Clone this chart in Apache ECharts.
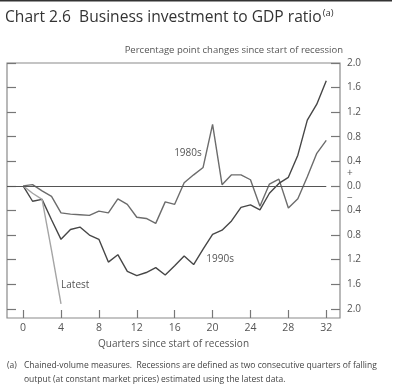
<!DOCTYPE html>
<html><head><meta charset="utf-8">
<script src="https://cdn.jsdelivr.net/npm/echarts@6/dist/echarts.min.js"></script>
<style>html,body{margin:0;padding:0;background:#fff}#c{width:400px;height:392px}</style>
</head><body><div id="c"></div>
<script>
const quarters = [0,1,2,3,4,5,6,7,8,9,10,11,12,13,14,15,16,17,18,19,20,21,22,23,24,25,26,27,28,29,30,31,32];
const s1980s = [0,0.02,-0.08,-0.17,-0.44,-0.46,-0.47,-0.48,-0.41,-0.44,-0.21,-0.30,-0.51,-0.53,-0.61,-0.26,-0.30,0.05,0.18,0.30,1.00,0.02,0.18,0.18,0.10,-0.33,0.03,0.11,-0.36,-0.21,0.15,0.53,0.74];
const s1990s = [0,-0.25,-0.22,-0.55,-0.87,-0.71,-0.67,-0.80,-0.87,-1.24,-1.12,-1.39,-1.46,-1.41,-1.33,-1.45,-1.30,-1.14,-1.28,-1.03,-0.79,-0.72,-0.57,-0.35,-0.31,-0.39,-0.12,0.04,0.14,0.50,1.07,1.33,1.71];
const sLatest = [0,-0.12,-0.22,-1.05,-1.92];
const xTicks = [0,4,8,12,16,20,24,28,32];
const yTicks = [-2.0,-1.6,-1.2,-0.8,-0.4,0,0.4,0.8,1.2,1.6,2.0];
const signMarks = [0.2,-0.2];
const seriesNames = ['1980s','1990s','Latest'];
const nameSpots = [[17.4,0.54],[20.8,-1.19],[5.5,-1.62]];

const chart = echarts.init(document.getElementById('c'), null, {renderer:'canvas'});
const FONT = '"Open Sans", "Noto Sans", sans-serif';
const TITLE = 'Chart 2.6  Business investment to GDP ratio';
const TITLE_FONT = '15.6px ' + FONT;
const mctx = document.createElement('canvas').getContext('2d');
mctx.font = TITLE_FONT;
const titleW = mctx.measureText(TITLE).width;

const pair = arr => arr.map((v,i)=>[quarters[i], v]);
function lbl(i){
  return {silent:true, symbol:'circle', symbolSize:1, itemStyle:{color:'rgba(0,0,0,0)'},
    label:{show:true, position:'inside', formatter:seriesNames[i], color:'#555', fontSize:10, fontFamily:FONT},
    data:[{coord:nameSpots[i]}]};
}
const option = {
  animation:false,
  grid:{left:7, right:60, top:63, bottom:74, show:true, borderColor:'#8a8a8a', borderWidth:1.2},
  xAxis:{type:'value', min:-1.7, max:33.45,
    axisLine:{show:false, onZero:false}, splitLine:{show:false},
    axisTick:{show:true, inside:true, length:8, customValues:xTicks, lineStyle:{color:'#777', width:1.2}},
    axisLabel:{show:true, customValues:xTicks, color:'#555', fontSize:10.5, fontFamily:FONT, margin:5},
    name:'Quarters since start of recession', nameLocation:'middle', nameGap:14,
    nameTextStyle:{color:'#555', fontSize:10, fontFamily:FONT}},
  yAxis:[
    {type:'value', min:-2.15, max:2.0, position:'left',
     axisLine:{show:false, onZero:false}, splitLine:{show:false}, axisLabel:{show:false},
     axisTick:{show:true, inside:true, length:9, customValues:yTicks, lineStyle:{color:'#777', width:1.2}}},
    {type:'value', min:-2.15, max:2.0, position:'right',
     axisLine:{show:false, onZero:false}, splitLine:{show:false},
     axisTick:{show:true, inside:true, length:9, customValues:yTicks, lineStyle:{color:'#777', width:1.2}},
     axisLabel:{show:true, customValues:yTicks.concat(signMarks), color:'#555', fontSize:10, fontFamily:FONT, margin:7,
       formatter:function(v){
         if (Math.abs(v-0.2)<1e-6) return '+';
         if (Math.abs(v+0.2)<1e-6) return '\u2212';
         return Math.abs(v).toFixed(1);
       }}}
  ],
  series:[
    {name:'1980s', type:'line', data:pair(s1980s), symbol:'none', lineStyle:{color:'#6c6c6c', width:1.4},
     markPoint:lbl(0),
     markLine:{symbol:'none', silent:true, label:{show:false}, lineStyle:{color:'#555', width:1.2, type:'solid'},
       data:[[{coord:[-1.7,0]},{coord:[32,0]}]]}},
    {name:'1990s', type:'line', data:pair(s1990s), symbol:'none', lineStyle:{color:'#474747', width:1.4}, markPoint:lbl(1)},
    {name:'Latest', type:'line', data:pair(sLatest), symbol:'none', lineStyle:{color:'#a5a5a5', width:1.4}, markPoint:lbl(2)}
  ],
  graphic:[
    {type:'rect', shape:{x:0, y:0, width:392, height:1.5}, style:{fill:'#333'}},
    {type:'text', x:5, y:18, style:{text:TITLE, font:TITLE_FONT, fill:'#333', textVerticalAlign:'middle'}},
    {type:'text', x:5 + titleW + 1, y:13, style:{text:'(a)', font:'9.5px '+FONT, fill:'#333', textVerticalAlign:'middle'}},
    {type:'text', x:343, y:50, style:{text:'Percentage point changes since start of recession', font:'9.5px '+FONT, fill:'#555', textAlign:'right', textVerticalAlign:'middle'}},
    {type:'text', x:7, y:366, style:{text:'(a)', font:'8.5px '+FONT, fill:'#444', textVerticalAlign:'middle'}},
    {type:'text', x:24, y:366, style:{text:'Chained-volume measures.  Recessions are defined as two consecutive quarters of falling', font:'8.5px '+FONT, fill:'#444', textVerticalAlign:'middle'}},
    {type:'text', x:24, y:380, style:{text:'output (at constant market prices) estimated using the latest data.', font:'8.5px '+FONT, fill:'#444', textVerticalAlign:'middle'}}
  ]
};
chart.setOption(option);
</script></body></html>
